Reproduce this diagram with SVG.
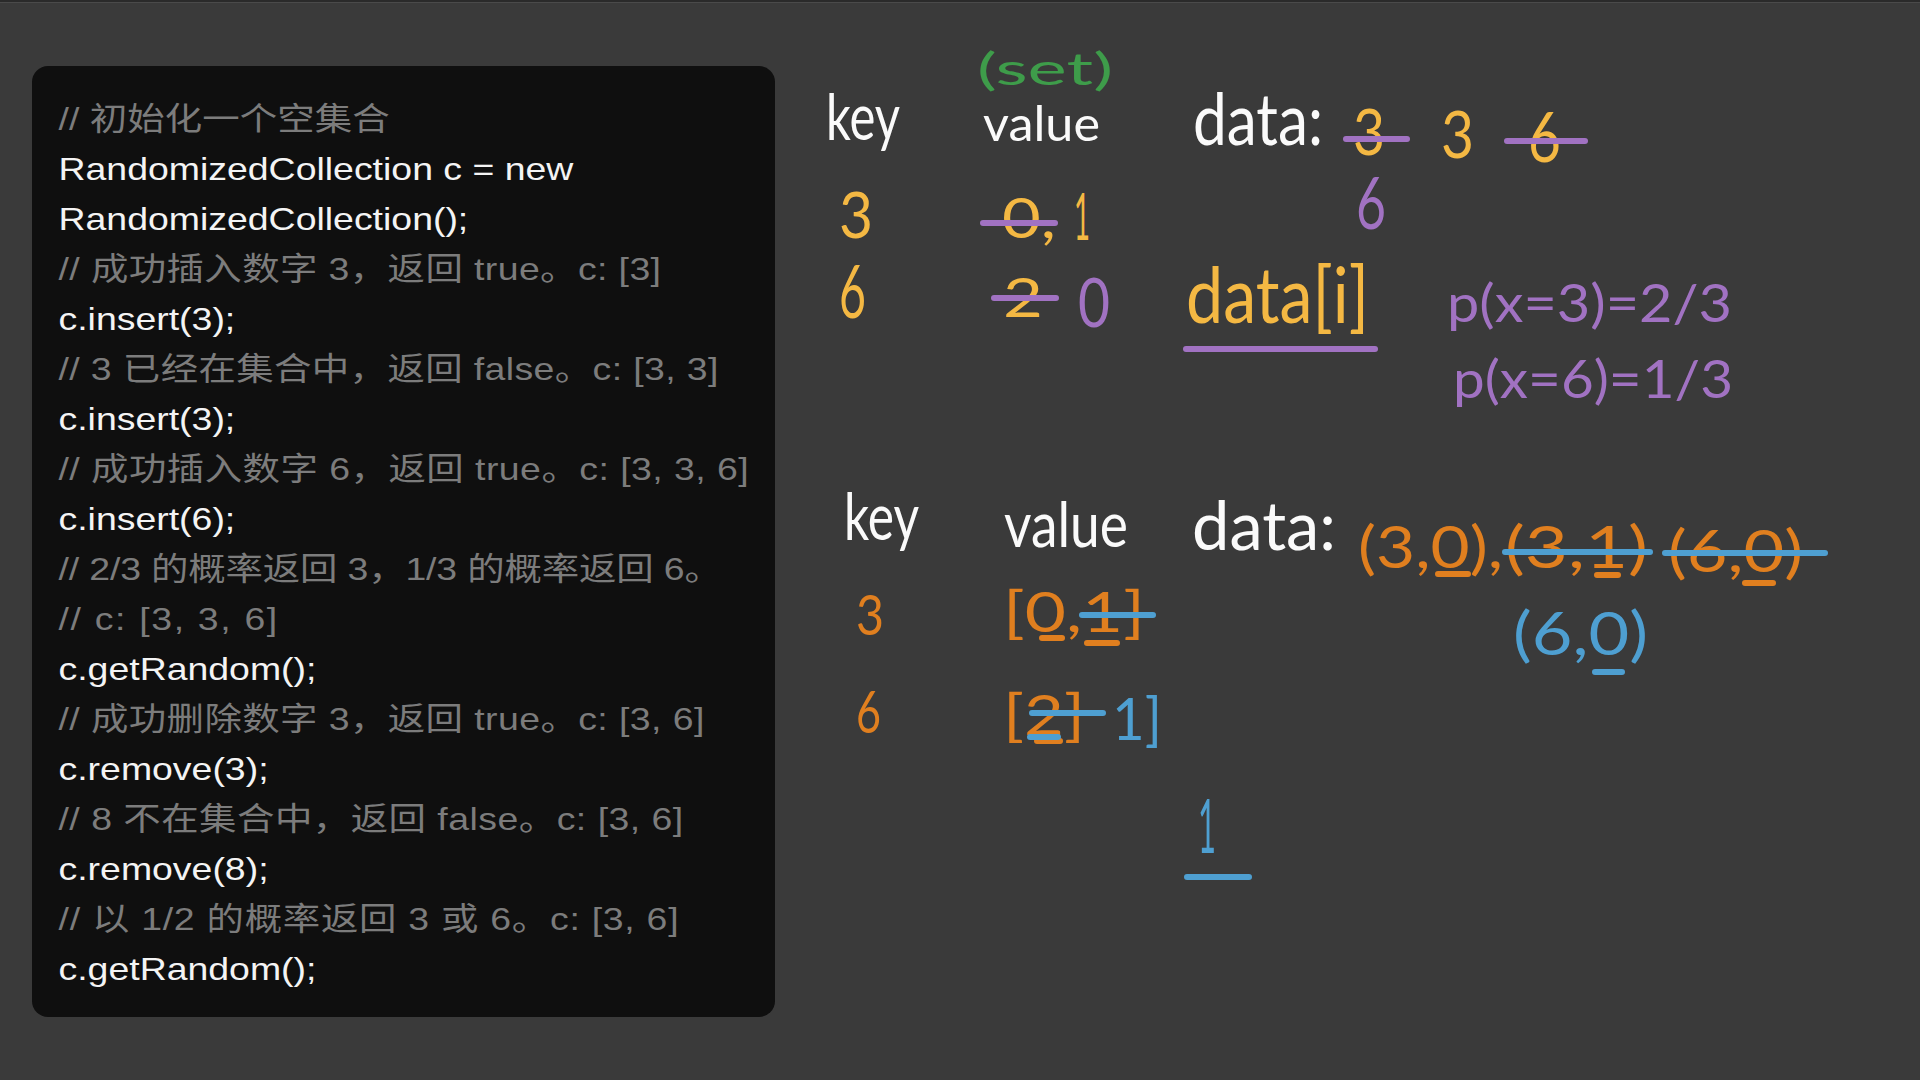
<svg xmlns="http://www.w3.org/2000/svg" width="1920" height="1080" viewBox="0 0 1920 1080">
  <style>
    .code { font-family: "Liberation Sans", "Noto Sans CJK SC", sans-serif; font-size: 32px; }
    .c { fill: #f4f4f4; }
    .cm { fill: #7c7c7c; }
    .hw { font-family: Lato, "Open Sans", sans-serif; font-weight: 400; }
    .w { fill: #fafafa; }
    .y { fill: #f4b843; }
    .o { fill: #e07f1f; }
    .p { fill: #a172c2; }
    .b { fill: #4e9fd1; }
    .g { fill: #3e9c4a; }
    .sp { stroke: #a172c2; stroke-width: 6; stroke-linecap: round; fill: none; }
    .sb { stroke: #4e9fd1; stroke-width: 6; stroke-linecap: round; fill: none; }
    .so { stroke: #e07f1f; stroke-width: 6; stroke-linecap: round; fill: none; }
  </style>
  <rect x="0" y="0" width="1920" height="1080" fill="#3a3a3a"/>
  <rect x="0" y="0" width="1920" height="2" fill="#2a2a2a"/>
  <rect x="0" y="2" width="1920" height="1" fill="#4a4a4a"/>

  <g id="code-panel">
    <rect x="32" y="66" width="743" height="951" rx="16" ry="16" fill="#0f0f0f"/>
    <g class="code" transform="scale(1.17,1)">
      <text class="cm" x="50" y="130" textLength="283">// 初始化一个空集合</text>
      <text class="c" x="50" y="180">RandomizedCollection c = new</text>
      <text class="c" x="50" y="230">RandomizedCollection();</text>
      <text class="cm" x="50" y="280" textLength="515">// 成功插入数字 3，返回 true。c: [3]</text>
      <text class="c" x="50" y="330">c.insert(3);</text>
      <text class="cm" x="50" y="380" textLength="564">// 3 已经在集合中，返回 false。c: [3, 3]</text>
      <text class="c" x="50" y="430">c.insert(3);</text>
      <text class="cm" x="50" y="480" textLength="590">// 成功插入数字 6，返回 true。c: [3, 3, 6]</text>
      <text class="c" x="50" y="530">c.insert(6);</text>
      <text class="cm" x="50" y="580" textLength="567">// 2/3 的概率返回 3，1/3 的概率返回 6。</text>
      <text class="cm" x="50" y="630" textLength="187">// c: [3, 3, 6]</text>
      <text class="c" x="50" y="680">c.getRandom();</text>
      <text class="cm" x="50" y="730" textLength="552">// 成功删除数字 3，返回 true。c: [3, 6]</text>
      <text class="c" x="50" y="780">c.remove(3);</text>
      <text class="cm" x="50" y="830" textLength="534">// 8 不在集合中，返回 false。c: [3, 6]</text>
      <text class="c" x="50" y="880">c.remove(8);</text>
      <text class="cm" x="50" y="930" textLength="530">// 以 1/2 的概率返回 3 或 6。c: [3, 6]</text>
      <text class="c" x="50" y="980">c.getRandom();</text>
    </g>
  </g>

  <g id="top-table" class="hw">
    <text class="g" x="977" y="85" font-size="44" textLength="136" lengthAdjust="spacingAndGlyphs">(set)</text>
    <text class="w" x="826" y="140" font-size="64" textLength="74" lengthAdjust="spacingAndGlyphs">key</text>
    <text class="w" x="983" y="141" font-size="48" textLength="117" lengthAdjust="spacingAndGlyphs">value</text>
    <text class="w" x="1193" y="145" font-size="72" textLength="130" lengthAdjust="spacingAndGlyphs">data:</text>
    <text class="y" x="1353" y="155" font-size="64" textLength="32" lengthAdjust="spacingAndGlyphs">3</text>
    <text class="y" x="1441" y="158" font-size="66" textLength="33" lengthAdjust="spacingAndGlyphs">3</text>
    <text class="y" x="1528" y="162" font-size="70" textLength="33" lengthAdjust="spacingAndGlyphs">6</text>
    <text class="p" x="1356" y="229" font-size="72" textLength="30" lengthAdjust="spacingAndGlyphs">6</text>
    <text class="y" x="839" y="238" font-size="64" textLength="34" lengthAdjust="spacingAndGlyphs">3</text>
    <text class="y" x="839" y="318" font-size="74" textLength="27" lengthAdjust="spacingAndGlyphs">6</text>
    <text class="y" x="1002" y="238" font-size="56" textLength="54" lengthAdjust="spacingAndGlyphs">0,</text>
    <text class="y" x="1074" y="240" font-size="66" textLength="16" lengthAdjust="spacingAndGlyphs">1</text>
    <text class="y" x="1003" y="317" font-size="54" textLength="40" lengthAdjust="spacingAndGlyphs">2</text>
    <text class="p" x="1078" y="327" font-size="68" textLength="32" lengthAdjust="spacingAndGlyphs">0</text>
    <text class="y" x="1186" y="323" font-size="78" textLength="183" lengthAdjust="spacingAndGlyphs">data[i]</text>
    <text class="p" x="1447" y="322" font-size="52" textLength="285" lengthAdjust="spacingAndGlyphs">p(x=3)=2/3</text>
    <text class="p" x="1453" y="398" font-size="52" textLength="280" lengthAdjust="spacingAndGlyphs">p(x=6)=1/3</text>
  </g>

  <g id="bottom-table" class="hw">
    <text class="w" x="844" y="540" font-size="66" textLength="75" lengthAdjust="spacingAndGlyphs">key</text>
    <text class="w" x="1004" y="547" font-size="62" textLength="124" lengthAdjust="spacingAndGlyphs">value</text>
    <text class="w" x="1192" y="550" font-size="68" textLength="144" lengthAdjust="spacingAndGlyphs">data:</text>
    <text class="o" x="1358" y="568" font-size="58" textLength="145" lengthAdjust="spacingAndGlyphs">(3,0),</text>
    <text class="o" x="1505" y="568" font-size="58" textLength="143" lengthAdjust="spacingAndGlyphs">(3,1)</text>
    <text class="o" x="1668" y="572" font-size="58" textLength="135" lengthAdjust="spacingAndGlyphs">(6,0)</text>
    <text class="b" x="1513" y="655" font-size="60" textLength="135" lengthAdjust="spacingAndGlyphs">(6,0)</text>
    <text class="o" x="856" y="635" font-size="56" textLength="28" lengthAdjust="spacingAndGlyphs">3</text>
    <text class="o" x="856" y="733" font-size="58" textLength="25" lengthAdjust="spacingAndGlyphs">6</text>
    <text class="o" x="1003" y="632" font-size="56" textLength="142" lengthAdjust="spacingAndGlyphs">[0,1]</text>
    <text class="o" x="1003" y="735" font-size="56" textLength="82" lengthAdjust="spacingAndGlyphs">[2]</text>
    <text class="b" x="1112" y="740" font-size="58" textLength="50" lengthAdjust="spacingAndGlyphs">1]</text>
    <text class="b" x="1198" y="853" font-size="76" textLength="18" lengthAdjust="spacingAndGlyphs">1</text>
  </g>

  <g id="marks">
    <line class="sp" x1="1346" y1="139" x2="1407" y2="139"/>
    <line class="sp" x1="1507" y1="141" x2="1585" y2="141"/>
    <line class="sp" x1="983" y1="223" x2="1055" y2="223"/>
    <line class="sp" x1="994" y1="298" x2="1056" y2="298"/>
    <line class="sp" x1="1186" y1="349" x2="1375" y2="349"/>
    <line class="so" x1="1438" y1="574" x2="1468" y2="574"/>
    <line class="so" x1="1597" y1="575" x2="1618" y2="575"/>
    <line class="so" x1="1745" y1="583" x2="1773" y2="583"/>
    <line class="so" x1="1042" y1="638" x2="1062" y2="638" stroke-width="8"/>
    <line class="so" x1="1087" y1="643" x2="1117" y2="643"/>
    <line class="so" x1="1037" y1="741" x2="1060" y2="741"/>
    <line class="sb" x1="1505" y1="552" x2="1650" y2="552"/>
    <line class="sb" x1="1665" y1="553" x2="1825" y2="553"/>
    <line class="sb" x1="1082" y1="615" x2="1153" y2="615"/>
    <line class="sb" x1="1032" y1="713" x2="1103" y2="713"/>
    <line class="sb" x1="1030" y1="737" x2="1058" y2="737"/>
    <line class="sb" x1="1595" y1="672" x2="1622" y2="672"/>
    <line class="sb" x1="1187" y1="877" x2="1249" y2="877"/>
  </g>
</svg>
